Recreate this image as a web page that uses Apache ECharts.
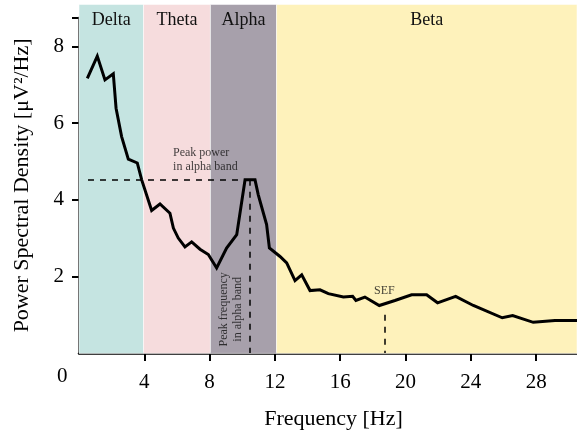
<!DOCTYPE html>
<html>
<head>
<meta charset="utf-8">
<script src="https://cdn.jsdelivr.net/npm/echarts@6/dist/echarts.min.js"></script>
<style>
  html, body { margin: 0; padding: 0; background: #fff; }
  #chart { width: 577px; height: 435px; }
</style>
</head>
<body>
<div id="chart"></div>
<script>
// spectrum
var freqHz = [0.51, 1.12, 1.59, 2.10, 2.27, 2.61, 3.02, 3.57, 3.84, 4.45, 4.96, 5.57, 5.78, 6.08, 6.49, 6.90, 7.41, 7.92, 8.43, 9.04, 9.66, 10.17, 10.78, 10.98, 11.49, 11.66, 12.31, 12.72, 13.23, 13.64, 14.15, 14.76, 15.27, 16.19, 16.76, 16.96, 17.51, 18.39, 19.35, 20.37, 21.29, 21.96, 23.07, 24.15, 25.92, 26.56, 27.82, 29.15, 30.5];
var psd = [7.17, 7.75, 7.13, 7.29, 6.39, 5.65, 5.06, 4.96, 4.52, 3.72, 3.89, 3.65, 3.26, 3.00, 2.77, 2.90, 2.71, 2.57, 2.22, 2.74, 3.09, 4.52, 4.52, 4.13, 3.35, 2.74, 2.52, 2.35, 1.89, 2.04, 1.63, 1.65, 1.55, 1.46, 1.48, 1.37, 1.46, 1.24, 1.37, 1.52, 1.52, 1.31, 1.48, 1.24, 0.92, 0.98, 0.80, 0.85, 0.85];

// frequency bands
var bandNames = ['Delta', 'Theta', 'Alpha', 'Beta'];
var bandStart = [0, 3.95, 8.05, 12.1];
var bandEnd = [3.95, 8.05, 12.1, 30.5];
var bandColors = ['#c5e4e1', '#f6dcdd', '#a7a0ab', '#fef2bb'];

// annotations
var peakPower = 4.52;
var peakPowerFrom = 0.55;
var peakPowerTo = 10.17;
var peakFreq = 10.47;
var sefFreq = 18.7;
var sefTop = 1.0;

var xTicks = [4, 8, 12, 16, 20, 24, 28];
var yTicks = [2, 4, 6, 8];
var yTickMarks = [2, 4, 6, 8, 8.75];

var serif = '"Liberation Serif", "DejaVu Serif", serif';

var chart = echarts.init(document.getElementById('chart'));

var bandAreas = bandNames.map(function (name, i) {
    return [
        { name: name, xAxis: bandStart[i], yAxis: 0, itemStyle: { color: bandColors[i] } },
        { xAxis: bandEnd[i], yAxis: 9.1 }
    ];
});

var option = {
    animation: false,
    grid: [
        { left: 79, right: 0, top: 17.8, bottom: 81.6 },
        // taller grid just for the coloured bands
        { left: 79, right: 0, top: 4.4, bottom: 81.6 }
    ],
    xAxis: [{
        type: 'value',
        min: 0,
        max: 30.5,
        name: 'Frequency [Hz]',
        nameLocation: 'middle',
        nameGap: 55,
        nameTextStyle: { fontFamily: serif, fontSize: 22, color: '#000', padding: [0, 0, 0, 11] },
        axisLine: { lineStyle: { color: '#000', width: 2.5 } },
        axisTick: { length: 8, customValues: xTicks, lineStyle: { color: '#000', width: 2 } },
        axisLabel: {
            margin: 19,
            customValues: xTicks,
            fontFamily: serif, fontSize: 21, color: '#000'
        },
        splitLine: { show: false }
    }, {
        type: 'value', gridIndex: 1, min: 0, max: 30.5, show: false
    }],
    yAxis: [{
        type: 'value',
        min: 0,
        max: 8.75,
        name: 'Power Spectral Density [\u03bcV\u00b2/Hz]',
        nameLocation: 'middle',
        nameGap: 46,
        nameTextStyle: { fontFamily: serif, fontSize: 22, color: '#000' },
        axisLine: { show: true, lineStyle: { color: '#000', width: 2.5 } },
        axisTick: { show: true, length: 7, customValues: yTickMarks, lineStyle: { color: '#000', width: 2 } },
        axisLabel: {
            margin: 15,
            customValues: yTicks,
            fontFamily: serif, fontSize: 21, color: '#000'
        },
        splitLine: { show: false }
    }, {
        type: 'value', gridIndex: 1, min: 0, max: 9.1, show: false
    }],
    graphic: [{
        type: 'text',
        left: 57, top: 366,
        style: { text: '0', font: '21px ' + serif, fill: '#000' }
    }],
    series: [
        {
            type: 'line',
            xAxisIndex: 1,
            yAxisIndex: 1,
            data: [],
            silent: true,
            z: -1,
            markArea: {
                silent: true,
                itemStyle: { borderColor: 'rgba(255,255,255,0.55)', borderWidth: 1 },
                label: {
                    position: 'insideTop',
                    distance: 7,
                    fontFamily: serif, fontSize: 18, color: '#111'
                },
                data: bandAreas
            }
        },
        {
            type: 'line',
            data: freqHz.map(function (f, i) { return [f, psd[i]]; }),
            symbol: 'none',
            z: 5,
            lineStyle: { color: '#000', width: 3, join: 'miter' },
            markLine: {
                silent: true,
                symbol: 'none',
                label: { show: false },
                lineStyle: { color: '#000', width: 1.5, type: [6, 6] },
                data: [
                    [{ coord: [peakPowerFrom, peakPower] }, { coord: [peakPowerTo, peakPower] }],
                    [{ coord: [peakFreq, peakPower] }, { coord: [peakFreq, 0] }],
                    [{ coord: [sefFreq, sefTop] }, { coord: [sefFreq, 0] }]
                ]
            }
        },
        {
            type: 'scatter',
            symbolSize: 0,
            silent: true,
            z: 6,
            label: { show: true, fontFamily: serif, fontSize: 12, color: '#111', lineHeight: 14 },
            data: [
                { value: [5.76, 5.04], label: { formatter: 'Peak power\nin alpha band', position: 'inside', align: 'left', verticalAlign: 'middle' } },
                { value: [9.28, 1.14], label: { formatter: 'Peak frequency\nin alpha band', position: 'inside', rotate: 90, align: 'center', verticalAlign: 'middle' } },
                { value: [sefFreq, 1.62], label: { formatter: 'SEF', position: 'inside', align: 'center', verticalAlign: 'middle' } }
            ]
        }
    ]
};

chart.setOption(option);
</script>
</body>
</html>
